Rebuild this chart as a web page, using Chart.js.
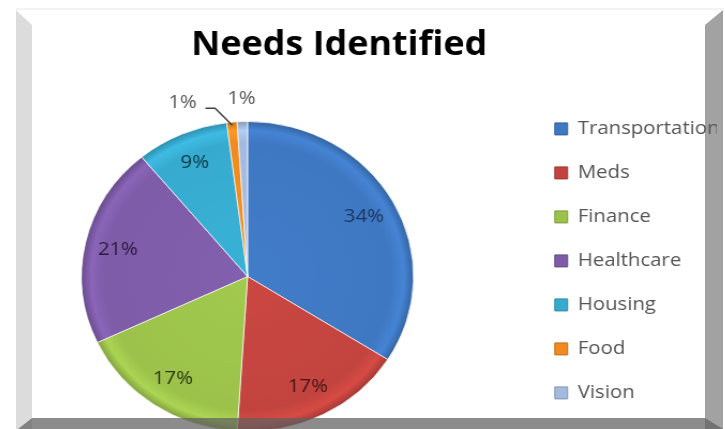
<!DOCTYPE html>
<html>
<head>
<meta charset="utf-8">
<script src="https://cdn.jsdelivr.net/npm/chart.js@4.4.1/dist/chart.umd.min.js"></script>
<style>
  html, body { margin: 0; padding: 0; background: #ffffff; overflow: hidden; }
  #wrap { position: relative; width: 725px; height: 429px; overflow: hidden; background: #fff; }
  .bevel { position: absolute; }
  #leftBevel { left: 16px; top: 10px; width: 16px; height: 419px; background: #dcdcdc;
    clip-path: polygon(0 0, 100% 15px, 100% 100%, 0 100%); z-index: 1; }
  #rightBevel { left: 705px; top: 10px; width: 18px; height: 419px; background: #a2a2a2;
    clip-path: polygon(0 15px, 100% 0, 100% 100%, 0 100%); z-index: 1; }
  #topEdge { left: 16px; top: 8px; width: 707px; height: 2px; background: #f3f3f3; z-index: 1; }
  #bottomBevel { left: 18px; top: 418px; width: 705px; height: 11px; background: rgba(95,95,95,0.72);
    clip-path: polygon(14px 0, 687px 0, 705px 11px, 0 11px); z-index: 3; }
  #chart { position: absolute; left: -49px; top: 0; z-index: 2; transform: scaleX(1.071); transform-origin: 0 0; }
</style>
</head>
<body>
<div id="wrap">
  <div class="bevel" id="topEdge"></div>
  <div class="bevel" id="leftBevel"></div>
  <div class="bevel" id="rightBevel"></div>
  <canvas id="chart" width="725" height="440"></canvas>
  <div class="bevel" id="bottomBevel"></div>
</div>
<script>
// ---- data ----
const categories = ['Transportation', 'Meds', 'Finance', 'Healthcare', 'Housing', 'Food', 'Vision'];
const values = [34, 17, 17, 21, 9, 1, 1];
const sliceColors = ['#3f78c2', '#c3443f', '#9cc24b', '#7e5ca8', '#37abcf', '#f18a20', '#a3bade'];
const labelColors = ['#1d355c', '#4a1513', '#2c3a10', '#2a1c3c', '#0f3946', '#595959', '#595959'];
const chartTitle = 'Needs Identified';

function shade(hex, f) {
  const n = parseInt(hex.slice(1), 16);
  const ch = [(n >> 16) & 255, (n >> 8) & 255, n & 255].map(v => Math.max(0, Math.min(255, Math.round(v * f))));
  return 'rgb(' + ch.join(',') + ')';
}

function sliceFill(c) {
  const i = c.dataIndex;
  const base = sliceColors[i === undefined ? 0 : i];
  const area = c.chart.chartArea;
  if (!area || i === undefined) return base;
  const cx = (area.left + area.right) / 2, cy = (area.top + area.bottom) / 2;
  const r = Math.min(area.right - area.left, area.bottom - area.top) / 2;
  const g = c.chart.ctx.createRadialGradient(cx, cy, 0, cx, cy, r);
  g.addColorStop(0, shade(base, 1.04));
  g.addColorStop(0.86, base);
  g.addColorStop(0.94, shade(base, 1.1));
  g.addColorStop(1, shade(base, 0.82));
  return g;
}

const pctLabels = {
  id: 'pctLabels',
  afterDatasetsDraw(chart) {
    const ctx = chart.ctx;
    const meta = chart.getDatasetMeta(0);
    const last = meta.data.length - 1;
    ctx.save();
    ctx.font = '19px "Open Sans"';
    ctx.textBaseline = 'middle';
    meta.data.forEach((arc, i) => {
      const p = arc.getProps(['x', 'y', 'startAngle', 'endAngle', 'outerRadius'], true);
      const mid = (p.startAngle + p.endAngle) / 2;
      const cs = Math.cos(mid), sn = Math.sin(mid);
      const txt = values[i] + '%';
      ctx.fillStyle = labelColors[i];
      if (values[i] >= 5) {
        const r = p.outerRadius * 0.8;
        ctx.textAlign = 'center';
        ctx.fillText(txt, p.x + cs * r, p.y + sn * r);
      } else if (i < last) {
        // leader line to the upper left
        const x0 = p.x + cs * (p.outerRadius - 3), y0 = p.y + sn * (p.outerRadius - 3);
        const x1 = x0 - 16, y1 = y0 - 17;
        const x2 = x1 - 9;
        ctx.strokeStyle = '#404040';
        ctx.lineWidth = 1.5;
        ctx.beginPath();
        ctx.moveTo(x0, y0); ctx.lineTo(x1, y1); ctx.lineTo(x2, y1);
        ctx.stroke();
        ctx.textAlign = 'right';
        ctx.fillText(txt, x2 - 8, y1 - 6);
      } else {
        const r = p.outerRadius + 23;
        ctx.textAlign = 'center';
        ctx.fillText(txt, p.x + cs * r, p.y + sn * r);
      }
    });
    ctx.restore();
  }
};

new Chart(document.getElementById('chart'), {
  type: 'pie',
  data: {
    labels: categories,
    datasets: [{
      data: values,
      backgroundColor: sliceFill,
      borderColor: 'rgba(255,255,255,0.7)',
      borderWidth: 1,
      hoverOffset: 0
    }]
  },
  options: {
    responsive: false,
    animation: false,
    devicePixelRatio: 1,
    layout: { padding: { left: 10, right: 10, top: 0, bottom: 8 } },
    scales: {
      spacer: {
        type: 'linear',
        position: 'left',
        display: true,
        grid: { display: false },
        border: { display: false },
        ticks: { display: false },
        afterFit(scale) { scale.width = 5; }
      }
    },
    plugins: {
      tooltip: { enabled: false },
      title: {
        display: true,
        text: chartTitle,
        color: '#000000',
        font: { family: '"Open Sans"', size: 33.5, weight: 'bold' },
        padding: { top: 25, bottom: 55.8 }
      },
      legend: {
        display: true,
        position: 'right',
        align: 'start',
        title: { display: true, text: ' ', font: { size: 12 }, padding: { top: 80, bottom: 0 } },
        labels: {
          boxWidth: 12,
          boxHeight: 12,
          padding: 25,
          color: '#555555',
          font: { family: '"Open Sans"', size: 19 },
          generateLabels(chart) {
            return categories.map((c, i) => ({
              text: c,
              fillStyle: sliceColors[i],
              strokeStyle: shade(sliceColors[i], 0.8),
              lineWidth: 1,
              fontColor: '#555555',
              hidden: false,
              index: i
            }));
          }
        }
      }
    }
  },
  plugins: [pctLabels]
});
</script>
</body>
</html>
